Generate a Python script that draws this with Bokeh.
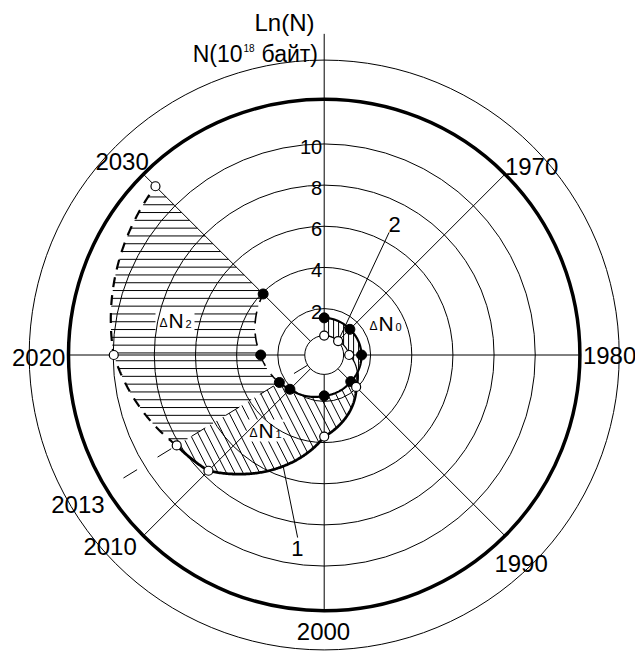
import numpy as np
from bokeh.plotting import figure
from bokeh.models import Range1d
from bokeh.embed import file_html
from bokeh.resources import INLINE
from bokeh.core.properties import value

# ---------------- data ----------------
years = [1960, 1970, 1980, 1990, 2000, 2010, 2013, 2020, 2030]
ln_n_solid = [1.55, 1.51, 1.56, 1.57, 1.73, 2.10, 2.30, 2.83, 3.94]   # black dots
ln_n_open = [0.69, 0.70, 0.96, 1.94, 3.71, 7.70, 8.15, 9.97, 11.34]    # open dots
last_known_year = 2013
ray_years = [1960, 1970, 1980, 1990, 2000, 2010, 2020, 2030]
label_years = [1970, 1980, 1990, 2000, 2010, 2013, 2020, 2030]
year_labels = ["1970", "1980", "1990", "2000", "2010", "2013", "2020", "2030"]
ring_values = [2, 4, 6, 8, 10]
ring_labels = ["2", "4", "6", "8", "10"]
inner_ring = 0.69
bold_ring = 12.17
outer_ring = 14.08
axis_top = 15.35

# ---------------- geometry / style ----------------
FONT = "Liberation Sans"
PX = 20.58          # pixels per Ln unit
L0 = 0.255          # radial offset of the origin
W, H = 635, 651
CX, CY = 323.7, 354.5   # pole position inside the canvas (px)


def theta(yr):
    return np.deg2rad(45.0 - 4.5 * (np.asarray(yr, dtype=float) - 1970.0))


def pxy(yr, L):
    th = theta(yr)
    rho = np.asarray(L, dtype=float) + L0
    return rho * np.cos(th), rho * np.sin(th)


def scr(sx, sy):
    """screen pixel -> data coords"""
    return (sx - CX) / PX, (CY - sy) / PX


def trace(vals, y0, y1, n=300):
    t = np.linspace(y0, y1, n)
    return pxy(t, np.interp(t, years, vals))


def hatch(px_, py_, angle_deg, spacing_px, phase=0.0, holes=()):
    a = np.deg2rad(angle_deg)
    d = np.array([np.cos(a), np.sin(a)])
    nv = np.array([-np.sin(a), np.cos(a)])
    P = np.column_stack([px_, py_])
    Q = np.roll(P, -1, axis=0)
    sP, sQ = P @ nv, Q @ nv
    tP, tQ = P @ d, Q @ d
    sp = spacing_px / PX
    c0 = np.ceil((sP.min() - phase) / sp) * sp + phase
    xs, ys = [], []
    for c in np.arange(c0, sP.max(), sp):
        m = (sP - c > 0) != (sQ - c > 0)
        f = (c - sP[m]) / (sQ[m] - sP[m])
        ts = np.sort(tP[m] + f * (tQ[m] - tP[m]))
        for k in range(0, len(ts) - 1, 2):
            segs = [(ts[k], ts[k + 1])]
            for (bx0, bx1, by0, by1) in holes:
                lo, hi = -np.inf, np.inf
                ok = True
                for dim, (b0, b1) in enumerate(((bx0, bx1), (by0, by1))):
                    base = c * nv[dim]
                    if abs(d[dim]) < 1e-12:
                        if not (b0 <= base <= b1):
                            ok = False
                    else:
                        u0, u1 = sorted(((b0 - base) / d[dim], (b1 - base) / d[dim]))
                        lo, hi = max(lo, u0), min(hi, u1)
                if not ok or lo >= hi:
                    continue
                new = []
                for (s0, s1) in segs:
                    if hi <= s0 or lo >= s1:
                        new.append((s0, s1))
                    else:
                        if lo > s0:
                            new.append((s0, lo))
                        if hi < s1:
                            new.append((hi, s1))
                segs = new
            for (s0, s1) in segs:
                p0 = c * nv + s0 * d
                p1 = c * nv + s1 * d
                xs.append([p0[0], p1[0]])
                ys.append([p0[1], p1[1]])
    return xs, ys


p = figure(width=W, height=H, output_backend="svg", toolbar_location=None,
           x_range=Range1d(-CX / PX, (W - CX) / PX),
           y_range=Range1d(-(H - CY) / PX, CY / PX),
           x_axis_type=None, y_axis_type=None, min_border=0)
p.grid.visible = False
p.outline_line_color = None
p.background_fill_color = "white"
p.border_fill_color = "white"

# ---- crossing of the two curves
tt = np.linspace(1980, 1990, 4001)
diff = np.interp(tt, years, ln_n_open) - np.interp(tt, years, ln_n_solid)
yc = float(tt[np.argmax(diff > 0)])

# ---- hatched regions
def box(x0, x1, y0, y1):
    a = scr(x0, y1)
    b = scr(x1, y0)
    return (a[0], b[0], a[1], b[1])

hole_n1 = box(246, 283, 419, 441)
hole_n2 = box(155, 194, 308, 331)

sx, sy = trace(ln_n_solid, 1960, yc)
ox, oy = trace(ln_n_open, 1960, yc)
hx, hy = hatch(np.r_[sx, ox[::-1]], np.r_[sy, oy[::-1]], 90, 5.0, phase=0.03)
p.multi_line(hx, hy, line_color="black", line_width=1)

ox, oy = trace(ln_n_open, yc, last_known_year)
sx, sy = trace(ln_n_solid, yc, last_known_year)
hx, hy = hatch(np.r_[ox, sx[::-1]], np.r_[oy, sy[::-1]], -63, 7.4, holes=[hole_n1])
p.multi_line(hx, hy, line_color="black", line_width=1)

ox, oy = trace(ln_n_open, last_known_year, years[-1])
sx, sy = trace(ln_n_solid, last_known_year, years[-1])
hx, hy = hatch(np.r_[ox, sx[::-1]], np.r_[oy, sy[::-1]], 0, 7.8, phase=0.1, holes=[hole_n2])
p.multi_line(hx, hy, line_color="black", line_width=1)

# ---- rings
p.circle(x=[0] * len(ring_values), y=[0] * len(ring_values),
         radius=[v + L0 for v in ring_values], fill_color=None,
         line_color="black", line_width=1)
p.circle(x=[0, 0], y=[0, 0], radius=[inner_ring + L0, outer_ring + L0],
         fill_color=None, line_color="black", line_width=1)
p.circle(x=[0], y=[0], radius=[bold_ring + L0], fill_color=None,
         line_color="black", line_width=3.5)

# ---- rays
x0, y0 = pxy(ray_years, [inner_ring] * len(ray_years))
ends = [axis_top if yr == 1960 else bold_ring for yr in ray_years]
x1, y1 = pxy(ray_years, ends)
p.segment(x0, y0, x1, y1, line_color="black", line_width=1)

# dashed ray of the last known year
dx0, dy0 = pxy([last_known_year], [inner_ring])
dx1, dy1 = pxy([last_known_year], [11.32])
p.segment(dx0, dy0, dx1, dy1, line_color="black", line_width=1, line_dash="16 24")

# ---- curves
cx_, cy_ = trace(ln_n_solid, 1960, last_known_year)
p.line(cx_, cy_, line_color="black", line_width=2.2)
cx_, cy_ = trace(ln_n_open, 1960, yc)
p.line(cx_, cy_, line_color="black", line_width=1.2)
cx_, cy_ = trace(ln_n_open, yc, last_known_year)
p.line(cx_, cy_, line_color="black", line_width=2.8)
cx_, cy_ = trace(ln_n_open, last_known_year, years[-1])
p.line(cx_, cy_, line_color="black", line_width=2.2, line_dash="10 8")
cx_, cy_ = trace(ln_n_solid, last_known_year, years[-1])
p.line(cx_, cy_, line_color="black", line_width=1.6, line_dash="12 10")

# ---- pointer lines "1" and "2"
l2a = pxy([1966.2], [6.49])
l2b = pxy([1970], [ln_n_open[1]])
p.segment(l2a[0], l2a[1], l2b[0], l2b[1], line_color="black", line_width=1)
t1 = 2004.5
l1a = pxy([2001.84], [8.71])
l1b = pxy([t1], [np.interp(t1, years, ln_n_open)])
p.segment(l1a[0], l1a[1], l1b[0], l1b[1], line_color="black", line_width=1)

# ---- markers
mx, my = pxy(years, ln_n_solid)
p.scatter(mx, my, size=10, fill_color="black", line_color="black")
mx, my = pxy(years, ln_n_open)
p.scatter(mx, my, size=9, fill_color="white", line_color="black", line_width=1.2)

# ---- texts (all vertically centred)
def txt(x, y, t, size, align="left", xo=0, yo=0):
    p.text(x=x, y=y, text=t, text_font=value(FONT), text_font_size=size,
           text_align=align, text_baseline="middle", x_offset=xo, y_offset=yo,
           text_color="black")

# year labels
lab_off = {1970: (6.5, 12.3), 1980: (1.3, 0.2), 1990: (-4, 7.7), 2000: (-0.7, -7.7),
           2010: (-13.2, -9.5), 2013: (-4, 0.9), 2020: (-1.4, 2.7), 2030: (-1.2, 7.1)}
lx, ly = pxy(label_years, [13.55] * len(label_years))
txt(list(lx), list(ly), year_labels, "24px", align="center",
    xo=[lab_off[y][0] for y in label_years], yo=[lab_off[y][1] for y in label_years])

# ring tick labels
tx, ty = pxy([1960] * len(ring_values), ring_values)
txt(list(tx), list(ty), ring_labels, "20px", align="right", xo=-2, yo=3)

# axis titles
a = scr(314, 21.6)
txt([a[0]], [a[1]], ["Ln(N)"], "24px", align="right")
a = scr(242, 53)
txt([a[0]], [a[1]], ["N(10"], "23px", align="right")
a = scr(243, 47.5)
txt([a[0]], [a[1]], ["18"], "10px")
a = scr(261, 53)
txt([a[0]], [a[1]], ["байт)"], "23px")

# curve labels
a = pxy([1966.3], [6.95])
txt(list(a[0]), list(a[1]), ["2"], "22px", align="center")
a = pxy([2001.76], [9.25])
txt(list(a[0]), list(a[1]), ["1"], "22px", align="center")

# ΔN labels (left edge, baseline in pixels)
for (sx_, sy_, sub) in [(369, 330, "0"), (249, 437, "1"), (159, 327, "2")]:
    a = scr(sx_, sy_)
    txt([a[0]], [a[1]], ["Δ"], "12px", yo=-4.2)
    txt([a[0]], [a[1]], ["N"], "21px", xo=9, yo=-7.4)
    txt([a[0]], [a[1]], [sub], "11px", xo=26, yo=-3.9)

open("out.html", "w").write(file_html(p, INLINE))
